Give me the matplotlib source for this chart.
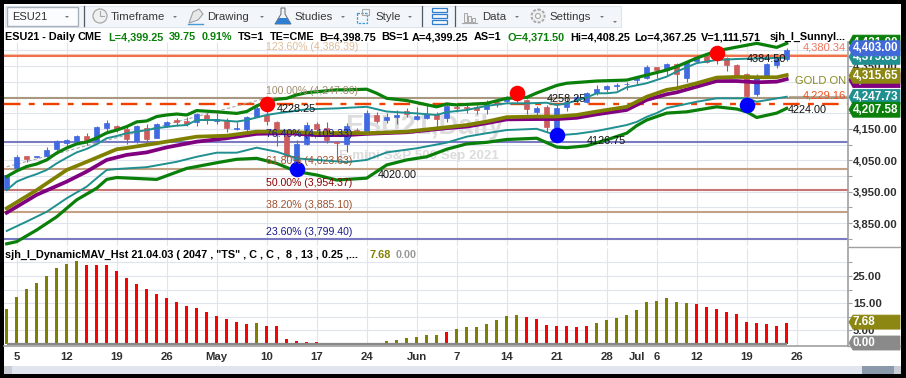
#!/usr/bin/env python3
"""ESU21 daily chart with moving average bands, fib levels and a histogram pane."""
import matplotlib

matplotlib.use('Agg')
import matplotlib.pyplot as plt
from matplotlib.patches import Circle, Polygon, Rectangle
from matplotlib.ticker import FuncFormatter

plt.rcParams['font.family'] = ['Liberation Sans', 'DejaVu Sans']

opens = [3957, 4024, 4064, 4060, 4064, 4086, 4106, 4111, 4126, 4111,
         4153, 4159, 4150, 4111, 4153, 4121, 4159, 4178, 4175, 4173,
         4194, 4176, 4175, 4149, 4150, 4189, 4194, 4173, 4130, 4035,
         4102, 4166, 4154, 4109, 4102, 4146, 4144, 4194, 4178, 4187,
         4207, 4182, 4185, 4197, 4185, 4220, 4220, 4219, 4214, 4235,
         4239, 4255, 4242, 4205, 4220, 4146, 4220, 4242, 4236, 4263,
         4278, 4285, 4291, 4304, 4311, 4347, 4337, 4356, 4313, 4367,
         4383, 4391, 4374, 4352, 4324, 4260, 4319, 4353, 4371.5]
highs = [4003, 4067, 4064, 4065, 4092, 4115, 4118, 4129, 4137, 4159,
         4178, 4162, 4157, 4162, 4165, 4169, 4175, 4185, 4188, 4200,
         4200, 4200, 4185, 4172, 4191, 4226, 4242, 4175, 4146, 4115,
         4172, 4172, 4173, 4111, 4169, 4153, 4210, 4204, 4200, 4210,
         4216, 4220, 4226, 4204, 4229, 4229, 4232, 4226, 4242, 4242,
         4255, 4267, 4245, 4223, 4226, 4232, 4251, 4258, 4267, 4290,
         4290, 4297, 4300, 4319, 4353, 4348, 4359, 4360, 4363, 4385,
         4388, 4394, 4379, 4356, 4328, 4324, 4359, 4375, 4408.25]
lows = [3955, 4022, 4045, 4057, 4060, 4070, 4096, 4105, 4099, 4108,
        4143, 4140, 4102, 4106, 4106, 4121, 4156, 4159, 4159, 4159,
        4165, 4165, 4141, 4146, 4137, 4188, 4162, 4096, 4057, 4025,
        4099, 4134, 4105, 4049, 4077, 4140, 4143, 4169, 4169, 4165,
        4188, 4178, 4181, 4157, 4172, 4205, 4200, 4197, 4197, 4219,
        4232, 4235, 4196, 4194, 4141, 4130, 4208, 4232, 4232, 4258,
        4268, 4274, 4274, 4290, 4309, 4313, 4321, 4284, 4298, 4363,
        4360, 4356, 4334, 4315, 4252, 4255, 4315, 4343, 4367.25]
closes = [4003, 4060, 4055, 4062, 4083, 4111, 4115, 4127, 4111, 4156,
          4169, 4150, 4118, 4159, 4118, 4165, 4172, 4172, 4164, 4197,
          4178, 4181, 4153, 4153, 4189, 4216, 4176, 4141, 4065, 4102,
          4162, 4150, 4115, 4106, 4160, 4144, 4200, 4176, 4189, 4194,
          4196, 4191, 4196, 4182, 4224, 4215, 4216, 4210, 4231, 4229,
          4247, 4242, 4212, 4215, 4155, 4217, 4236, 4251, 4264, 4278,
          4286, 4288, 4294, 4315, 4347, 4338, 4356, 4324, 4362, 4380,
          4364, 4372, 4353, 4321, 4255, 4319, 4356, 4371, 4399.25]

green_up_days = [0, 1, 2, 3, 4, 5, 6, 7, 8, 9, 10, 11, 12, 13, 14, 15, 16, 17, 18, 19,
                 21, 23, 24, 25, 26, 27, 28, 29, 30, 31, 33, 34, 36, 37, 38, 40, 43, 44,
                 45, 48, 50, 52, 53, 55, 56, 59, 62, 64, 66, 67, 69, 71, 73, 75, 77, 78]
green_up = [3998, 4016, 4030, 4038, 4051, 4073, 4089, 4102, 4108, 4121, 4137, 4146, 4157,
            4172, 4175, 4189, 4194, 4197, 4194, 4208, 4204, 4199, 4205, 4223, 4236, 4244,
            4247, 4258, 4265, 4268, 4274, 4274, 4276, 4263, 4247, 4240, 4220, 4229, 4226,
            4231, 4247, 4250, 4264, 4288, 4295, 4302, 4305, 4321, 4337, 4348, 4375, 4398,
            4410, 4422, 4409, 4422]

teal_up_days = [0, 1, 2, 3, 4, 5, 6, 7, 8, 9, 10, 11, 12, 13, 14, 15, 17, 18, 19, 21, 23, 24,
                26, 27, 30, 33, 36, 38, 41, 43, 44, 46, 48, 50, 52, 54, 55, 56, 57, 58, 59,
                60, 61, 62, 64, 66, 67, 69, 71, 73, 75, 78]
teal_up = [3955, 3982, 3995, 4006, 4019, 4040, 4058, 4075, 4086, 4101, 4120, 4127, 4136,
           4141, 4146, 4152, 4160, 4162, 4178, 4178, 4173, 4178, 4194, 4199, 4212, 4215,
           4220, 4205, 4199, 4194, 4203, 4210, 4223, 4231, 4231, 4233, 4226, 4231, 4240,
           4250, 4263, 4263, 4266, 4282, 4295, 4316, 4332, 4359, 4369, 4372, 4374, 4376]

olive_days = [0, 3, 6, 8, 11, 12, 15, 19, 22, 25, 28, 31, 34, 36, 40, 44, 46, 48, 50, 53,
              55, 57, 59, 62, 64, 66, 67, 69, 71, 73, 75, 77, 78]
olive_ma = [3897, 3955, 4019, 4045, 4085, 4089, 4104, 4125, 4128, 4141, 4141, 4136, 4137,
            4136, 4141, 4155, 4162, 4173, 4187, 4189, 4189, 4194, 4205, 4220, 4252, 4274,
            4279, 4295, 4313, 4315, 4314, 4314, 4321]

purple_days = [0, 3, 6, 8, 10, 12, 14, 16, 19, 22, 25, 28, 31, 34, 36, 40, 44, 46, 48, 50,
               53, 55, 57, 59, 62, 64, 66, 67, 69, 71, 73, 75, 77, 78]
purple_ma = [3883, 3940, 3982, 4014, 4051, 4067, 4075, 4091, 4109, 4120, 4134, 4136, 4130,
             4130, 4134, 4139, 4152, 4157, 4168, 4180, 4181, 4181, 4185, 4196, 4210, 4242,
             4260, 4266, 4284, 4302, 4302, 4298, 4300, 4308]

teal_low_days = [0, 2, 4, 6, 8, 9, 10, 11, 14, 17, 19, 21, 23, 25, 27, 29, 31, 34, 36, 38,
                 41, 44, 46, 48, 50, 53, 55, 57, 59, 62, 63, 64, 65, 66, 69, 71, 74, 75, 78]
teal_low = [3825, 3855, 3886, 3929, 3966, 3993, 4019, 4022, 4028, 4045, 4061, 4074, 4074,
            4090, 4077, 4056, 4051, 4044, 4051, 4075, 4088, 4106, 4125, 4136, 4146, 4150,
            4129, 4134, 4143, 4162, 4172, 4188, 4200, 4216, 4236, 4247, 4247, 4236, 4252]

green_low_days = [0, 1, 3, 5, 7, 9, 10, 11, 15, 18, 21, 23, 25, 27, 29, 31, 33, 36, 38, 40,
                  42, 44, 46, 48, 50, 53, 55, 56, 58, 60, 62, 63, 64, 66, 68, 71, 73, 74,
                  75, 77, 78]
green_low = [3784, 3791, 3828, 3870, 3924, 3961, 3989, 3995, 3989, 4024, 4042, 4053, 4056,
             4040, 4014, 4003, 3987, 3993, 4035, 4051, 4061, 4085, 4102, 4107, 4116, 4120,
             4092, 4090, 4096, 4115, 4136, 4160, 4178, 4200, 4204, 4220, 4213, 4204, 4186,
             4200, 4215]

hist_values = [12.9, 17.3, 20.2, 22.4, 25.0, 27.9, 29.4, 30.5, 29.0, 29.0, 29.0, 26.8, 24.3,
               22.0, 20.2, 18.4, 16.9, 15.4, 14.0, 13.2, 11.8, 10.3, 9.2, 8.1, 7.4, 7.7, 6.6,
               6.6, 1.8, 1.1, 0.7, 0.7, 0.4, 0.2, 0.3, 0.2, 0.2, 0.2, 1.1, 1.5, 2.2, 2.6, 3.3,
               3.3, 4.4, 5.5, 6.2, 6.2, 7.4, 8.8, 10.3, 10.7, 9.9, 9.2, 7.0, 6.6, 6.6, 6.2,
               6.6, 7.7, 8.8, 9.6, 10.7, 12.5, 15.4, 15.8, 16.9, 15.4, 15.1, 14.7, 13.6, 12.9,
               11.8, 11.0, 8.1, 7.7, 7.4, 6.6, 7.68]
hist_codes = list('oooooooorrrrrrrrrrrrrrrrrorrrrrrrrpppoooooooro'
                  'oooooorrrrrrroooooooooorrrrrrrrrrrrro')
hist_palette = {'o': '#808000', 'r': '#ff0000', 'p': '#800080'}

fib_levels = [4386.39, 4247.86, 4109.33, 4023.63, 3954.37, 3885.10, 3799.40]
fib_labels = ['123.60% (4,386.39)', '100.00% (4,247.86)', '76.40% (4,109.33)', '61.80% (4,023.63)',
              '50.00% (3,954.37)', '38.20% (3,885.10)', '23.60% (3,799.40)']
fib_line_colors = ['#f2c9a8', '#a89880', '#7b7bc4', '#c4a084', '#c87474', '#c4a084', '#7b7bc4']
fib_text_colors = ['#e0bc98', '#a08c70', '#1a1a8c', '#a0522d', '#8b0000', '#a0522d', '#1a1a8c']

high_days = [26, 51, 71]
high_prices = [4229, 4263, 4390]
low_days = [29, 55, 74]
low_prices = [4021, 4130, 4226]

tick_days = [1, 6, 11, 16, 21, 26, 31, 36, 41, 45, 50, 55, 60, 63, 65, 69, 74, 79]
tick_names = ['5', '12', '19', '26', 'May', '10', '17', '24', 'Jun', '7', '14', '21', '28',
              'Jul', '6', '12', '19', '26']
grid_days = [1, 6, 11, 16, 21, 26, 31, 36, 41, 45, 50, 55, 60, 65, 69, 74, 79]

# drawn back to front, later tags cover the earlier ones
price_tags = [4421.00, 4375.88, 4403.00, 4302.00, 4315.65, 4247.73, 4207.58]
price_tag_colors = ['#0a800a', '#1f8f8f', '#4169d8', '#800080', '#8b8712', '#1f8f8f', '#0a800a']
hist_tags = [7.68, 0.00]
hist_tag_colors = ['#8b8712', '#8a8a8a']

header = [(5, 'ESU21 - Daily', 'black'), (78, 'CME', 'black'), (108, 'L=4,399.25', '#0a800a'),
          (169, '39.75', '#0a800a'), (202, '0.91%', '#0a800a'), (238, 'TS=1', 'black'),
          (270, 'TE=CME', 'black'), (319, 'B=4,398.75', 'black'), (381, 'BS=1', 'black'),
          (412, 'A=4,399.25', 'black'), (474, 'AS=1', 'black'), (507, 'O=4,371.50', '#0a800a'),
          (570, 'Hi=4,408.25', 'black'), (634, 'Lo=4,367.25', 'black'),
          (701, 'V=1,111,571', 'black'), (770, 'sjh_I_SunnyI...', 'black')]
toolbar = [(111, 'Timeframe', 175), (207, 'Drawing', 262), (294, 'Studies', 343), (375, 'Style', 410),
           (482, 'Data', 517), (549, 'Settings', 602)]

W, H = 906, 378
GRID = '#dfe4ef'
AXIS = '#a0a0a0'
LABEL = '#303030'
FS = 7.8


def axes_px(fig, left, top, right, bottom):
    return fig.add_axes([left / W, 1 - bottom / H, (right - left) / W, (bottom - top) / H])


def pixel_overlay(fig, z):
    ov = fig.add_axes([0, 0, 1, 1], zorder=z)
    ov.set_xlim(0, W)
    ov.set_ylim(H, 0)
    ov.axis('off')
    ov.patch.set_alpha(0)
    return ov


def draw_candles(ax):
    for i, (o, h, l, c) in enumerate(zip(opens, highs, lows, closes)):
        col = '#4169e1' if c >= o else '#cd5c5c'
        ax.vlines(i, l, h, color='#707070', lw=0.8, zorder=2)
        ax.bar(i, abs(c - o), bottom=min(o, c), width=0.55, color=col, edgecolor=col, lw=0.5, zorder=3)


def draw_price(ax):
    ax.set_xlim(-0.27, 84.13)
    ax.set_ylim(3777.1, 4426.2)
    ax.patch.set_alpha(0)
    for s in ['top', 'left', 'bottom']:
        ax.spines[s].set_visible(False)
    ax.spines['right'].set_color(AXIS)
    ax.spines['right'].set_linewidth(1.2)
    ax.yaxis.tick_right()
    ax.set_yticks([3850, 3950, 4050, 4150, 4250, 4350])
    ax.set_yticks([3800, 3900, 4000, 4100, 4200, 4300, 4400], minor=True)
    ax.yaxis.set_major_formatter(FuncFormatter(lambda v, p: f'{v:,.2f}'))
    ax.tick_params(axis='y', which='both', length=3, width=0.8, color=AXIS, pad=0.5,
                   labelsize=FS + 0.4, labelcolor=LABEL)
    for t in ax.get_yticklabels():
        t.set_fontweight('bold')
    ax.set_xticks([])
    ax.grid(True, axis='y', which='both', color=GRID, lw=0.8, zorder=0)
    ax.set_axisbelow(True)
    ax.vlines(grid_days, 3777.1, 4426.2, color=GRID, lw=0.8, zorder=0)

    for lev, lab, lc, tc in zip(fib_levels, fib_labels, fib_line_colors, fib_text_colors):
        ax.axhline(lev, color=lc, lw=1.5, zorder=1)
        ax.annotate(lab, (26, lev), xytext=(-0.5, 5.2), textcoords='offset points', va='center', ha='left',
                    color=tc, fontsize=FS - 0.2, zorder=6, annotation_clip=False)

    ax.axhline(4380.34, color='#f07050', lw=1.5, zorder=1)
    ax.axhline(4229.16, color='#f04000', lw=1.7, dashes=(7, 3.5, 2.5, 3.5), zorder=1)
    # dashed trend line up to the 100% level
    ax.plot([0, 26], [4029, 4247.86], color='#a8a8a8', lw=0.8, ls=(0, (3, 2)), zorder=1)

    draw_candles(ax)

    ax.plot(teal_up_days, teal_up, color='#1f8f8f', lw=1.4, zorder=4)
    ax.plot(teal_low_days, teal_low, color='#1f8f8f', lw=1.4, zorder=4)
    ax.plot(purple_days, purple_ma, color='#800080', lw=2.7, zorder=4)
    ax.plot(olive_days, olive_ma, color='#808000', lw=2.7, zorder=4)
    ax.plot(green_up_days, green_up, color='#0a800a', lw=2.3, zorder=4, clip_on=False)
    ax.plot(green_low_days, green_low, color='#0a800a', lw=2.3, zorder=4)

    ax.scatter(high_days, high_prices, s=125, color='#ff0000', lw=0, zorder=5)
    ax.scatter(low_days, low_prices, s=125, color='#0000ff', lw=0, zorder=5)


def draw_hist(ax):
    ax.set_xlim(-0.27, 84.13)
    ax.set_ylim(-0.735, 35.3)
    ax.patch.set_alpha(0)
    for s in ['top', 'left']:
        ax.spines[s].set_visible(False)
    for s in ['right', 'bottom']:
        ax.spines[s].set_color(AXIS)
        ax.spines[s].set_linewidth(1.2)
    ax.yaxis.tick_right()
    ax.set_yticks([5, 15, 25])
    ax.set_yticks([10, 20, 30], minor=True)
    ax.yaxis.set_major_formatter(FuncFormatter(lambda v, p: f'{v:,.2f}'))
    ax.tick_params(axis='y', which='both', length=3, width=0.8, color=AXIS, pad=0.5,
                   labelsize=FS + 0.4, labelcolor=LABEL)
    ax.set_xticks(tick_days)
    ax.set_xticklabels(tick_names, fontweight='bold')
    ax.tick_params(axis='x', length=0, pad=4, labelsize=FS + 0.4, labelcolor=LABEL)
    for t in ax.get_yticklabels():
        t.set_fontweight('bold')
    ax.grid(True, axis='y', which='both', color=GRID, lw=0.8)
    ax.set_axisbelow(True)
    ax.vlines(grid_days, -0.735, 35.3, color=GRID, lw=0.8, zorder=0)
    days = range(len(hist_values))
    ax.bar(days, hist_values, width=0.33, color=[hist_palette[c] for c in hist_codes], zorder=3)
    ax.plot([0, 78], [0, 0], color='#888888', lw=1.6, zorder=4, solid_capstyle='butt')


def draw_tags(ov, trans, values, colors, half):
    # the tag height is fixed in pixels, the centre follows the value on its axis
    for n, (v, col) in enumerate(zip(values, colors)):
        z = 10 + n
        y = H - trans.transform((0, v))[1] - 1
        poly = [(849, y), (853, y - half), (900, y - half), (900, y + half), (853, y + half)]
        ov.add_patch(Polygon(poly, closed=True, facecolor=col, edgecolor=col, lw=0.6, zorder=z))
        ov.text(852.5, y, f'{v:,.2f}', color='white', fontweight='bold', fontsize=FS + 0.6,
                va='center', ha='left', zorder=z + 0.5)


def draw_toolbar(ov):
    ov.add_patch(Rectangle((5, 6), 616, 21, facecolor='#f2f6fa', edgecolor='#dde4ec', lw=0.8))
    ov.add_patch(Rectangle((6.5, 7), 71, 18.5, facecolor='#fbfcfe', edgecolor='#a8b0bc', lw=1))
    ov.text(12, 16.5, 'ESU21', fontsize=FS + 0.2, color='#303030', va='center')
    arrows = [67] + [a for _, _, a in toolbar] + [615]
    for a in arrows:
        y0 = 21 if a == 615 else 16
        ov.add_patch(Polygon([(a - 2, y0), (a + 2, y0), (a, y0 + 2)], facecolor='#777777', lw=0))
    for x, name, _ in toolbar:
        ov.text(x, 16.5, name, fontsize=FS + 0.4, color='#383838', va='center')
    for x in [83.5, 422, 454.5]:
        ov.plot([x, x], [6, 26], color='#505a66', lw=0.9)
    # icons
    ov.add_patch(Circle((100, 16), 7, facecolor='#eef0f2', edgecolor='#a8a8a8', lw=0.9))
    ov.plot([100, 100, 104], [11, 16, 16], color='#a8a8a8', lw=0.8)
    ov.add_patch(Polygon([(189, 23), (193, 12), (199, 9), (203, 14), (198, 20)], facecolor='#e6e8ea',
                         edgecolor='#a0a0a0', lw=0.8))
    ov.plot([188, 203], [24, 24], color='#4a9ad4', lw=1)
    ov.add_patch(Polygon([(281, 8), (285, 8), (285, 14), (291, 24), (275, 24), (281, 14)],
                         facecolor='#f0f4f8', edgecolor='#606870', lw=0.7))
    ov.add_patch(Polygon([(279, 18), (287, 18), (291, 24), (275, 24)], facecolor='#2f7ed0', lw=0))
    ov.add_patch(Rectangle((357, 13), 10, 10, fill=False, edgecolor='#3a9ad8', lw=0.9, ls=(0, (2, 1))))
    ov.add_patch(Rectangle((362, 9), 7, 6, fill=False, edgecolor='#a8a8a8', lw=0.8))
    for y in [10, 16, 22]:
        ov.add_patch(Rectangle((432, y - 2), 15, 4, facecolor='#f4f8fc', edgecolor='#2f7ed0', lw=0.9))
    for x, h in [(464, 9), (468, 6), (472, 4)]:
        ov.add_patch(Rectangle((x, 22 - h), 3, h, facecolor='#eef0f2', edgecolor='#a8a8a8', lw=0.7))
    ov.plot([462, 477], [22.5, 22.5], color='#a8a8a8', lw=0.8)
    ov.add_patch(Circle((538, 16), 6.5, facecolor='#eef0f2', edgecolor='#a8a8a8', lw=1.4, ls=(0, (1.5, 0.8))))
    ov.add_patch(Circle((538, 16), 2.5, facecolor='#f8f8f8', edgecolor='#a8a8a8', lw=0.8))


def main():
    fig = plt.figure(figsize=(W / 100, H / 100), dpi=100, facecolor='black')

    bg = pixel_overlay(fig, 0)
    bg.add_patch(Rectangle((4, 4), 897, 370, facecolor='white', lw=0))
    bg.text(345, 127, 'ESU21,Daily', fontsize=19.5, fontweight='bold', color='#dcdcdc', va='center')
    bg.text(339, 156, 'E-mini S&P 500 Sep 2021', fontsize=9.6, fontweight='bold', color='#dcdcdc', va='center')

    ax = axes_px(fig, 4, 42, 848, 246)
    ax.set_zorder(1)
    draw_price(ax)
    ax2 = axes_px(fig, 4, 248, 848, 346)
    ax2.set_zorder(1)
    draw_hist(ax2)

    fg = pixel_overlay(fig, 5)
    fg.plot([848, 900], [246.5, 246.5], color=AXIS, lw=1)
    fg.plot([848, 900], [346, 346], color=AXIS, lw=1)
    draw_toolbar(fg)

    for x, txt, col in header:
        fg.text(x, 37, txt, color=col, fontweight='bold', fontsize=FS, va='center')
    fg.text(5, 254.5, 'sjh_I_DynamicMAV_Hst 21.04.03 ( 2047 , "TS" , C , C ,  8 , 13 , 0.25 ,...',
            color='black', fontweight='bold', fontsize=FS, va='center')
    fg.text(369, 254.5, '7.68', color='#808000', fontweight='bold', fontsize=FS, va='center')
    fg.text(396, 254.5, '0.00', color='#999999', fontweight='bold', fontsize=FS, va='center')

    for x, y, txt in [(277, 109, '4228.25'), (378, 175, '4020.00'), (547, 99, '4258.25'),
                      (587, 141, '4126.75'), (747, 59, '4384.50'), (788, 110, '4224.00')]:
        fg.text(x, y, txt, color='#101010', fontsize=FS, va='center')

    fg.text(846, 48, '4,380.34', color='#f07860', fontsize=FS + 0.2, va='center', ha='right')
    fg.text(846, 81, 'GOLD ON', color='#8a8a20', fontsize=FS + 0.2, va='center', ha='right')
    fg.text(846, 96, '4,229.16', color='#f05020', fontsize=FS + 0.2, va='center', ha='right')
    fg.plot([790, 846], [97, 97], color='#a89880', lw=1.5, alpha=0.8)

    fig.canvas.draw()
    draw_tags(fg, ax.transData, price_tags, price_tag_colors, 7.5)
    draw_tags(fg, ax2.transData, hist_tags, hist_tag_colors, 7)

    # scrollbar
    fg.add_patch(Rectangle((4, 366), 897, 8, facecolor='#e0e5ef', lw=0))
    fg.add_patch(Rectangle((4, 366), 8, 8, facecolor='#c8ccd4', lw=0))
    fg.add_patch(Rectangle((862, 366), 32, 8, facecolor='#8a9aac', lw=0))
    fg.add_patch(Rectangle((894, 366), 7, 8, facecolor='#c8ccd4', lw=0))

    fig.savefig('out.png', dpi=100, facecolor='black')


if __name__ == '__main__':
    main()
